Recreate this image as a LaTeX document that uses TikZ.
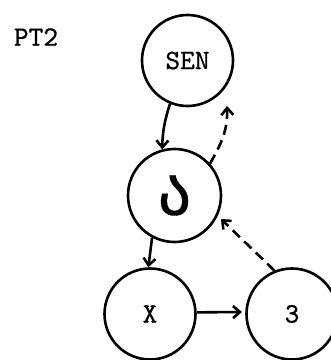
\documentclass[tikz,border=0pt]{standalone}
\usepackage{fontspec}
\newfontfamily\tw{lmmono10-regular.otf}[FakeBold=0.7]
\newfontfamily\geofont{DejaVu Sans}[FakeBold=0.5]
\usetikzlibrary{arrows.meta}
\begin{document}
\begin{tikzpicture}[x=1pt,y=1pt,
  lbl/.style={font=\tw\fontsize{28}{30}\selectfont},
  state/.style={circle,draw,line width=2.6pt,minimum size=91pt,inner sep=0pt,lbl},
  conn/.style={line width=2.6pt,-{Straight Barb[length=7pt,width=12pt,line width=2.6pt]}},
  dconn/.style={conn,dash pattern=on 10pt off 6pt}]
\clip (0,0) rectangle (331,360);
\useasboundingbox (0,0) rectangle (331,360);
\node[lbl] (pt) at (36,323) {PT2};
\node[state] (sen) at (187.5,299.5) {SEN};
\node[state,minimum size=93pt,font=\geofont\fontsize{66}{68}\selectfont] (a) at (174.5,164.5) {ა};
\node[state] (x) at (150,46) {X};
\node[state] (t) at (292,46) {3};
\coordinate (t1) at (227,254);
\coordinate (t2) at (242,48);
\coordinate (t3) at (221,141);
\draw[conn] (sen.248) to[bend right=8] (a.105);
\draw[dconn] (a.42) to[out=60,in=-88] (t1);
\draw[conn] (a.242) to (x.92);
\draw[conn] (x.2) -- (t2);
\draw[dconn] (t.112) -- (t3);
\end{tikzpicture}
\end{document}
